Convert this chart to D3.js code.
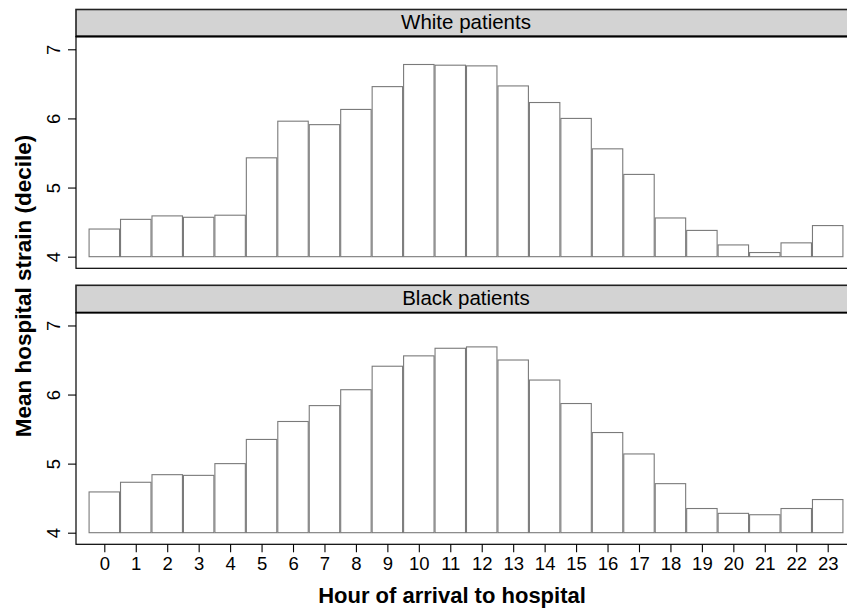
<!DOCTYPE html>
<html>
<head>
<meta charset="utf-8">
<script src="https://cdn.jsdelivr.net/npm/d3@7"></script>
<style>
  html, body { margin: 0; padding: 0; background: #fff; }
  svg { display: block; font-family: "Liberation Sans", Arial, sans-serif; }
</style>
</head>
<body>
<svg id="chart" width="847" height="610"></svg>
<script>
const hours = [0,1,2,3,4,5,6,7,8,9,10,11,12,13,14,15,16,17,18,19,20,21,22,23];
const whiteValues = [4.40,4.54,4.59,4.57,4.60,5.43,5.96,5.91,6.13,6.46,6.78,6.77,6.76,6.47,6.23,6.00,5.56,5.19,4.56,4.38,4.17,4.06,4.20,4.45];
const blackValues = [4.59,4.73,4.84,4.83,5.00,5.35,5.61,5.84,6.07,6.41,6.56,6.67,6.69,6.50,6.21,5.87,5.45,5.14,4.71,4.35,4.28,4.26,4.35,4.48];
const panelNames = ["White patients", "Black patients"];
const yTicks = [4,5,6,7];
const xLabel = "Hour of arrival to hospital";
const yLabel = "Mean hospital strain (decile)";

const svg = d3.select("#chart");
const left = 76, right = 856;
const x = d3.scaleLinear().domain([-0.9, 23.9]).range([left, right]);

const panels = [
  { name: panelNames[0], values: whiteValues, stripTop: 9.5, plotTop: 36.5, plotBottom: 268.3, showX: false },
  { name: panelNames[1], values: blackValues, stripTop: 285.3, plotTop: 312.7, plotBottom: 544.3, showX: true }
];

panels.forEach(p => {
  const y = d3.scaleLinear().domain([3.832, 7.185]).range([p.plotBottom, p.plotTop]);
  const g = svg.append("g");

  // strip
  g.append("rect")
    .attr("x", left).attr("y", p.stripTop)
    .attr("width", right - left).attr("height", p.plotTop - p.stripTop)
    .attr("fill", "#d3d3d3").attr("stroke", "#222").attr("stroke-width", 1.6);
  g.append("text")
    .attr("x", (left + right) / 2).attr("y", (p.stripTop + p.plotTop) / 2 + 6)
    .attr("text-anchor", "middle").attr("font-size", 20.5).attr("fill", "#000")
    .text(p.name);

  // plot frame
  g.append("rect")
    .attr("x", left).attr("y", p.plotTop)
    .attr("width", right - left).attr("height", p.plotBottom - p.plotTop)
    .attr("fill", "#fff").attr("stroke", "#000").attr("stroke-width", 1.2);
  g.append("line")
    .attr("x1", left).attr("x2", right).attr("y1", p.plotTop).attr("y2", p.plotTop)
    .attr("stroke", "#000").attr("stroke-width", 1.8);

  // bars
  g.selectAll("rect.bar").data(hours).enter().append("rect")
    .attr("class", "bar")
    .attr("x", d => x(d - 0.5) + 0.5)
    .attr("width", d => x(d + 0.5) - x(d - 0.5) - 1)
    .attr("y", (d, i) => y(p.values[i]))
    .attr("height", (d, i) => y(4) - y(p.values[i]))
    .attr("fill", "#fff").attr("stroke", "#7a7a7a").attr("stroke-width", 1.1);

  // y axis
  const yAxis = d3.axisLeft(y).tickValues(yTicks).tickSize(8).tickFormat(d3.format("d"));
  const ya = g.append("g").attr("transform", `translate(${left},0)`).call(yAxis);
  ya.select(".domain").remove();
  ya.selectAll(".tick line").attr("stroke", "#000").attr("stroke-width", 1.1);
  ya.selectAll(".tick text")
    .attr("x", null).attr("dy", null)
    .attr("transform", "translate(-16,0) rotate(-90)")
    .attr("text-anchor", "middle")
    .attr("font-size", 18.5).attr("fill", "#000")
    .style("font-family", "Liberation Sans, Arial, sans-serif");

  if (p.showX) {
    const xAxis = d3.axisBottom(x).tickValues(hours).tickSize(8).tickFormat(d3.format("d"));
    const xa = g.append("g").attr("transform", `translate(0,${p.plotBottom})`).call(xAxis);
    xa.select(".domain").remove();
    xa.selectAll(".tick line").attr("stroke", "#000").attr("stroke-width", 1.1);
    xa.selectAll(".tick text")
      .attr("y", 25.5).attr("dy", null)
      .attr("font-size", 18.5).attr("fill", "#000")
      .style("font-family", "Liberation Sans, Arial, sans-serif");
  }
});

svg.append("text")
  .attr("x", 452).attr("y", 603)
  .attr("text-anchor", "middle").attr("font-size", 22).attr("font-weight", "bold")
  .text(xLabel);

svg.append("text")
  .attr("transform", "translate(31,286) rotate(-90)")
  .attr("text-anchor", "middle").attr("font-size", 22.5).attr("font-weight", "bold")
  .text(yLabel);
</script>
</body>
</html>
